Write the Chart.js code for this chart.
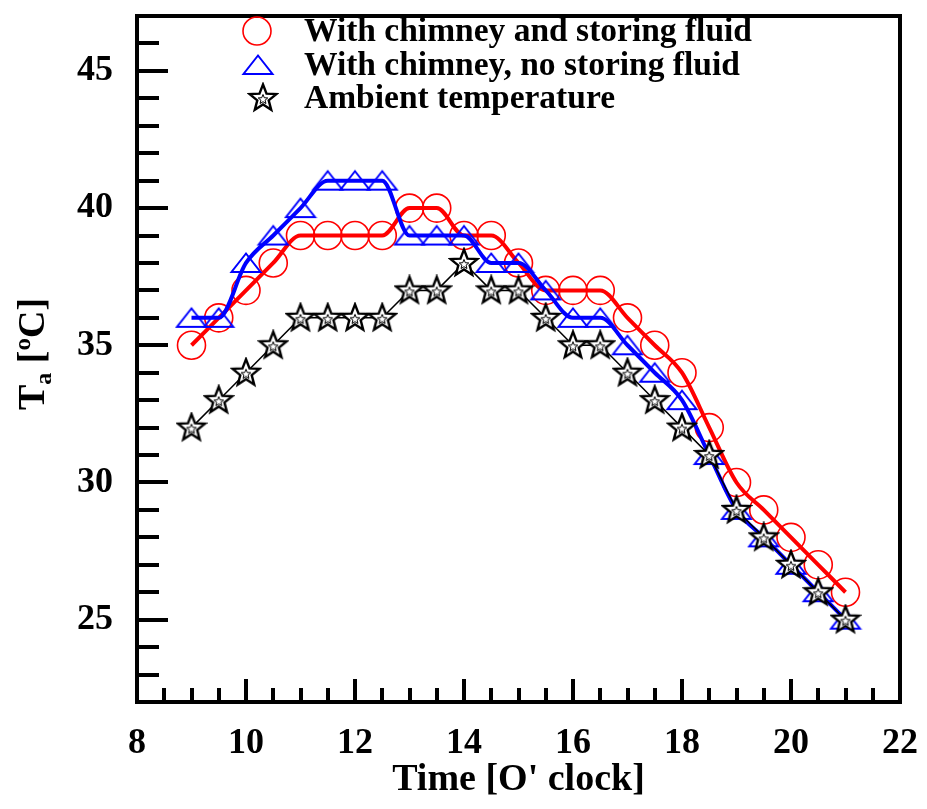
<!DOCTYPE html>
<html>
<head>
<meta charset="utf-8">
<title>Air temperature vs time</title>
<script src="https://cdn.jsdelivr.net/npm/chart.js@4.4.1/dist/chart.umd.min.js"></script>
<style>
  html, body { margin: 0; padding: 0; background: #ffffff; }
  #wrap { width: 927px; height: 809px; position: relative; }
</style>
</head>
<body>
<div id="wrap"><canvas id="chart" width="927" height="809"></canvas></div>
<script>
// Measurement times (hour of day)
const hours = [9, 9.5, 10, 10.5, 11, 11.5, 12, 12.5, 13, 13.5, 14, 14.5, 15,
               15.5, 16, 16.5, 17, 17.5, 18, 18.5, 19, 19.5, 20, 20.5, 21];

// Air temperature, chimney with storing fluid (°C)
const withStoringFluid = [35, 36, 37, 38, 39, 39, 39, 39, 40, 40, 39, 39, 38,
                          37, 37, 37, 36, 35, 34, 32, 30, 29, 28, 27, 26];

// Air temperature, chimney without storing fluid (°C)
const noStoringFluid = [36, 36, 38, 39, 40, 41, 41, 41, 39, 39, 39, 38, 38,
                        37, 36, 36, 35, 34, 33, 31, 29, 28, 27, 26, 25];

// Ambient temperature (°C)
const ambientTemp = [32, 33, 34, 35, 36, 36, 36, 36, 37, 37, 38, 37, 37,
                     36, 35, 35, 34, 33, 32, 31, 29, 28, 27, 26, 25];

const seriesLabels = [
  'With chimney and storing fluid',
  'With chimney, no storing fluid',
  'Ambient temperature'
];

const xTickLabels = [8, 10, 12, 14, 16, 18, 20, 22];
const yTickLabels = [25, 30, 35, 40, 45];

const SERIF = '"Liberation Serif", "Times New Roman", "DejaVu Serif", serif';

// Open triangle marker (wider than tall)
function makeTriangle(color) {
  const c = document.createElement('canvas');
  c.width = 34; c.height = 24;
  const g = c.getContext('2d');
  g.strokeStyle = color;
  g.lineWidth = 2;
  g.lineJoin = 'miter';
  g.beginPath();
  g.moveTo(17, 2.5);
  g.lineTo(31.5, 21);
  g.lineTo(2.5, 21);
  g.closePath();
  g.stroke();
  return c;
}

// Open five-pointed star marker
function makeStar(color) {
  const c = document.createElement('canvas');
  c.width = 32; c.height = 32;
  const g = c.getContext('2d');
  const cx = 16, cy = 16.5, ro = 14, ri = 6;
  g.beginPath();
  for (let i = 0; i < 10; i++) {
    const r = i % 2 === 0 ? ro : ri;
    const a = -Math.PI / 2 + i * Math.PI / 5;
    const px = cx + r * Math.cos(a), py = cy + r * Math.sin(a);
    if (i === 0) g.moveTo(px, py); else g.lineTo(px, py);
  }
  g.closePath();
  g.fillStyle = '#ffffff';
  g.fill();
  g.strokeStyle = color;
  g.lineWidth = 2.4;
  g.stroke();
  // small inner star
  g.beginPath();
  for (let i = 0; i < 10; i++) {
    const r = i % 2 === 0 ? 5 : 2.2;
    const a = -Math.PI / 2 + i * Math.PI / 5;
    const px = cx + r * Math.cos(a), py = cy + 1 + r * Math.sin(a);
    if (i === 0) g.moveTo(px, py); else g.lineTo(px, py);
  }
  g.closePath();
  g.lineWidth = 1;
  g.stroke();
  return c;
}

const triangleMarker = makeTriangle('#0000ff');
const starMarker = makeStar('#000000');

const toPoints = (vals) => hours.map((h, i) => ({ x: h, y: vals[i] }));

// Frame with inward major/minor ticks on the left and bottom axes
const frameTicks = {
  id: 'frameTicks',
  afterDraw(chart) {
    const { ctx, chartArea: a, scales: { x, y } } = chart;
    ctx.save();
    ctx.strokeStyle = '#000000';
    ctx.lineCap = 'butt';
    ctx.lineWidth = 4;
    // y ticks
    for (let v = 23; v < 47; v++) {
      const py = Math.round(y.getPixelForValue(v));
      const len = v % 5 === 0 ? 31 : 22;
      ctx.beginPath();
      ctx.moveTo(a.left, py);
      ctx.lineTo(a.left + len, py);
      ctx.stroke();
    }
    // x ticks
    for (let v = 8.5; v < 22; v += 0.5) {
      const px = Math.round(x.getPixelForValue(v));
      const len = v % 2 === 0 ? 23 : 14;
      ctx.beginPath();
      ctx.moveTo(px, a.bottom);
      ctx.lineTo(px, a.bottom - len);
      ctx.stroke();
    }
    // axes frame
    ctx.lineWidth = 4;
    ctx.strokeRect(a.left, a.top, a.right - a.left, a.bottom - a.top);
    ctx.restore();
  }
};

// Y-axis title with subscript, and the in-plot legend
const annotations = {
  id: 'annotations',
  afterDraw(chart) {
    const { ctx } = chart;
    ctx.save();
    // y title: T_a [ºC]
    ctx.translate(44, 354);
    ctx.rotate(-Math.PI / 2);
    ctx.fillStyle = '#000000';
    ctx.textBaseline = 'alphabetic';
    ctx.textAlign = 'left';
    const big = 'bold 38px ' + SERIF;
    const small = 'bold 24px ' + SERIF;
    ctx.font = big;
    const wT = ctx.measureText('T').width;
    ctx.font = small;
    const wa = ctx.measureText('a').width;
    ctx.font = big;
    const rest = ' [ºC]';
    const wRest = ctx.measureText(rest).width;
    const total = wT + wa + wRest;
    let cx = -total / 2;
    ctx.fillText('T', cx, 0); cx += wT;
    ctx.font = small;
    ctx.fillText('a', cx, 7); cx += wa;
    ctx.font = big;
    ctx.fillText(rest, cx, 0);
    ctx.restore();

    // legend
    ctx.save();
    const rows = [31, 65, 98];
    const markerX = 257;
    const textX = 304;
    ctx.font = 'bold 33.5px ' + SERIF;
    ctx.textBaseline = 'middle';
    ctx.textAlign = 'left';
    ctx.fillStyle = '#000000';
    chart.data.datasets.forEach((ds, i) => {
      const ry = rows[i];
      if (ds.pointStyle === 'circle') {
        ctx.beginPath();
        ctx.arc(markerX, ry, ds.pointRadius, 0, Math.PI * 2);
        ctx.strokeStyle = ds.pointBorderColor;
        ctx.lineWidth = ds.pointBorderWidth;
        ctx.stroke();
      } else {
        const img = ds.pointStyle;
        const dx = i === 2 ? 6 : 1;
        ctx.drawImage(img, markerX + dx - img.width / 2, ry - img.height / 2);
      }
      ctx.fillText(ds.label, textX, ry + 1);
    });
    ctx.restore();
  }
};

new Chart(document.getElementById('chart'), {
  type: 'line',
  data: {
    datasets: [
      {
        label: seriesLabels[0],
        data: toPoints(withStoringFluid),
        borderColor: '#ff0000',
        borderWidth: 4,
        cubicInterpolationMode: 'monotone',
        pointStyle: 'circle',
        pointRadius: 14,
        pointBorderWidth: 1.6,
        pointBorderColor: '#ff0000',
        pointBackgroundColor: 'rgba(0,0,0,0)',
        order: 3
      },
      {
        label: seriesLabels[1],
        data: toPoints(noStoringFluid),
        borderColor: '#0000ff',
        borderWidth: 4,
        cubicInterpolationMode: 'monotone',
        pointStyle: triangleMarker,
        pointRadius: 12,
        order: 2
      },
      {
        label: seriesLabels[2],
        data: toPoints(ambientTemp),
        borderColor: '#000000',
        borderWidth: 1.5,
        tension: 0,
        pointStyle: starMarker,
        pointRadius: 12,
        order: 1
      }
    ]
  },
  options: {
    responsive: false,
    animation: false,
    devicePixelRatio: 1,
    layout: { padding: { left: 0, top: 8, right: 27, bottom: 0 } },
    plugins: {
      legend: { display: false },
      tooltip: { enabled: false }
    },
    scales: {
      x: {
        type: 'linear',
        min: 8,
        max: 22,
        grid: { display: false, drawTicks: false },
        border: { display: false },
        afterFit(scale) {
          scale.height = 107;
          scale.paddingLeft = 0;
          scale.paddingRight = 0;
        },
        afterBuildTicks(scale) { scale.ticks = xTickLabels.map(v => ({ value: v })); },
        ticks: {
          padding: 20,
          maxRotation: 0,
          color: '#000000',
          font: { family: SERIF, size: 36, weight: 'bold' }
        },
        title: {
          display: true,
          text: "Time [O' clock]",
          color: '#000000',
          font: { family: SERIF, size: 38, weight: 'bold' },
          padding: { top: 0, bottom: 6 }
        }
      },
      y: {
        type: 'linear',
        min: 22,
        max: 47,
        grid: { display: false, drawTicks: false },
        border: { display: false },
        afterFit(scale) {
          scale.width = 137;
          scale.paddingTop = 0;
          scale.paddingBottom = 0;
        },
        afterBuildTicks(scale) { scale.ticks = yTickLabels.map(v => ({ value: v })); },
        ticks: {
          padding: 24,
          color: '#000000',
          font: { family: SERIF, size: 36, weight: 'bold' }
        }
      }
    }
  },
  plugins: [frameTicks, annotations]
});
</script>
</body>
</html>
